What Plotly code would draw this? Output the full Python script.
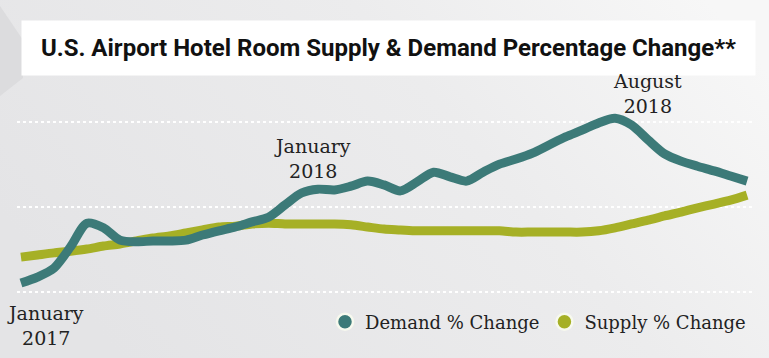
import base64
import plotly.graph_objects as go

# Half-month steps from January 2017 (index 0) onward
periods = list(range(45))

demand_pct = [0.21, 0.35, 0.56, 1.06, 1.62, 1.51, 1.22, 1.18, 1.20, 1.20,
              1.22, 1.34, 1.44, 1.53, 1.65, 1.76, 2.05, 2.33, 2.42, 2.40,
              2.49, 2.61, 2.52, 2.38, 2.59, 2.82, 2.71, 2.61, 2.82, 3.01,
              3.13, 3.27, 3.46, 3.65, 3.81, 3.98, 4.09, 3.93, 3.58, 3.25,
              3.08, 2.96, 2.85, 2.73, 2.61]

supply_pct = [0.82, 0.87, 0.92, 0.96, 1.01, 1.08, 1.13, 1.20, 1.27, 1.32,
              1.39, 1.46, 1.53, 1.55, 1.60, 1.62, 1.60, 1.60, 1.60, 1.60,
              1.58, 1.53, 1.48, 1.46, 1.44, 1.44, 1.44, 1.44, 1.44, 1.44,
              1.41, 1.41, 1.41, 1.41, 1.41, 1.44, 1.51, 1.60, 1.69, 1.79,
              1.88, 1.98, 2.07, 2.16, 2.28]

grid_values = [0, 2, 4]
series_names = ["Demand % Change", "Supply % Change"]
title_text = "U.S. Airport Hotel Room Supply & Demand Percentage Change**"

DEMAND_COLOR = "#3c7a78"
SUPPLY_COLOR = "#a6b026"
SERIF = "DejaVu Serif"

fig = go.Figure()
for vals, color in [(supply_pct, SUPPLY_COLOR), (demand_pct, DEMAND_COLOR)]:
    fig.add_trace(go.Scatter(x=periods, y=vals, mode="lines",
                             line=dict(color=color, width=9, shape="spline", smoothing=0.8),
                             showlegend=False, hoverinfo="skip"))
for name, color in zip(series_names, [DEMAND_COLOR, SUPPLY_COLOR]):
    fig.add_trace(go.Scatter(x=[None], y=[None], mode="markers", name=name,
                             marker=dict(color=color, size=16,
                                         line=dict(color="#f7f9ee", width=2.5))))

svg = ('<svg xmlns="http://www.w3.org/2000/svg" width="769" height="358">'
       '<defs><linearGradient id="g" x1="0" y1="0.6" x2="1" y2="0.2">'
       '<stop offset="0" stop-color="#e4e4e6"/><stop offset="0.6" stop-color="#ececed"/>'
       '<stop offset="1" stop-color="#f7f7f7"/></linearGradient></defs>'
       '<rect width="769" height="358" fill="url(#g)"/>'
       '<polygon points="0,6 23,40 23,78 0,96" fill="#dcdcde"/></svg>')
bg_src = "data:image/svg+xml;base64," + base64.b64encode(svg.encode()).decode()

L, R, T, B = 17, 14, 100, 58
W, H = 769, 358
pw, ph = W - L - R, H - T - B


def px(x):
    return (x - L) / pw


def py(y):
    return (H - B - y) / ph


fig.update_layout(
    width=W, height=H,
    margin=dict(l=L, r=R, t=T, b=B),
    paper_bgcolor="#ebebed", plot_bgcolor="rgba(0,0,0,0)",
    images=[dict(source=bg_src, xref="paper", yref="paper", x=px(0), y=py(0),
                 sizex=W / pw, sizey=H / ph, sizing="stretch", layer="below")],
    xaxis=dict(range=[-0.24, 44.48], visible=False, fixedrange=True),
    yaxis=dict(range=[-0.19, 4.52], tickvals=grid_values, showticklabels=False,
               showgrid=True, gridcolor="#ffffff", griddash="dot", gridwidth=2,
               zeroline=False, showline=False, ticks="", fixedrange=True),
    showlegend=True,
    legend=dict(orientation="h", x=px(325), xanchor="left", y=py(322), yanchor="middle",
                bgcolor="rgba(0,0,0,0)", font=dict(family=SERIF, size=18, color="#222222"),
                itemclick=False, itemdoubleclick=False, tracegroupgap=0),
    annotations=[
        dict(text=title_text, xref="paper", yref="paper", x=px(388.5), y=py(48),
             xanchor="center", yanchor="middle", width=731, height=52, bgcolor="#ffffff",
             showarrow=False, align="center",
             font=dict(family="Roboto", size=24, color="#111111", weight="bold")),
        dict(text="January<br>2017", xref="paper", yref="paper", x=px(45), y=py(325),
             xanchor="center", yanchor="middle", showarrow=False,
             font=dict(family=SERIF, size=19, color="#222222")),
        dict(text="January<br>2018", xref="paper", yref="paper", x=px(312), y=py(158.5),
             xanchor="center", yanchor="middle", showarrow=False,
             font=dict(family=SERIF, size=19, color="#222222")),
        dict(text="August<br>2018", xref="paper", yref="paper", x=px(647), y=py(93.5),
             xanchor="center", yanchor="middle", showarrow=False,
             font=dict(family=SERIF, size=19, color="#222222")),
    ],
)

fig.write_html("out.html", config={"displayModeBar": False},
               post_script="document.body.style.margin='0';")
